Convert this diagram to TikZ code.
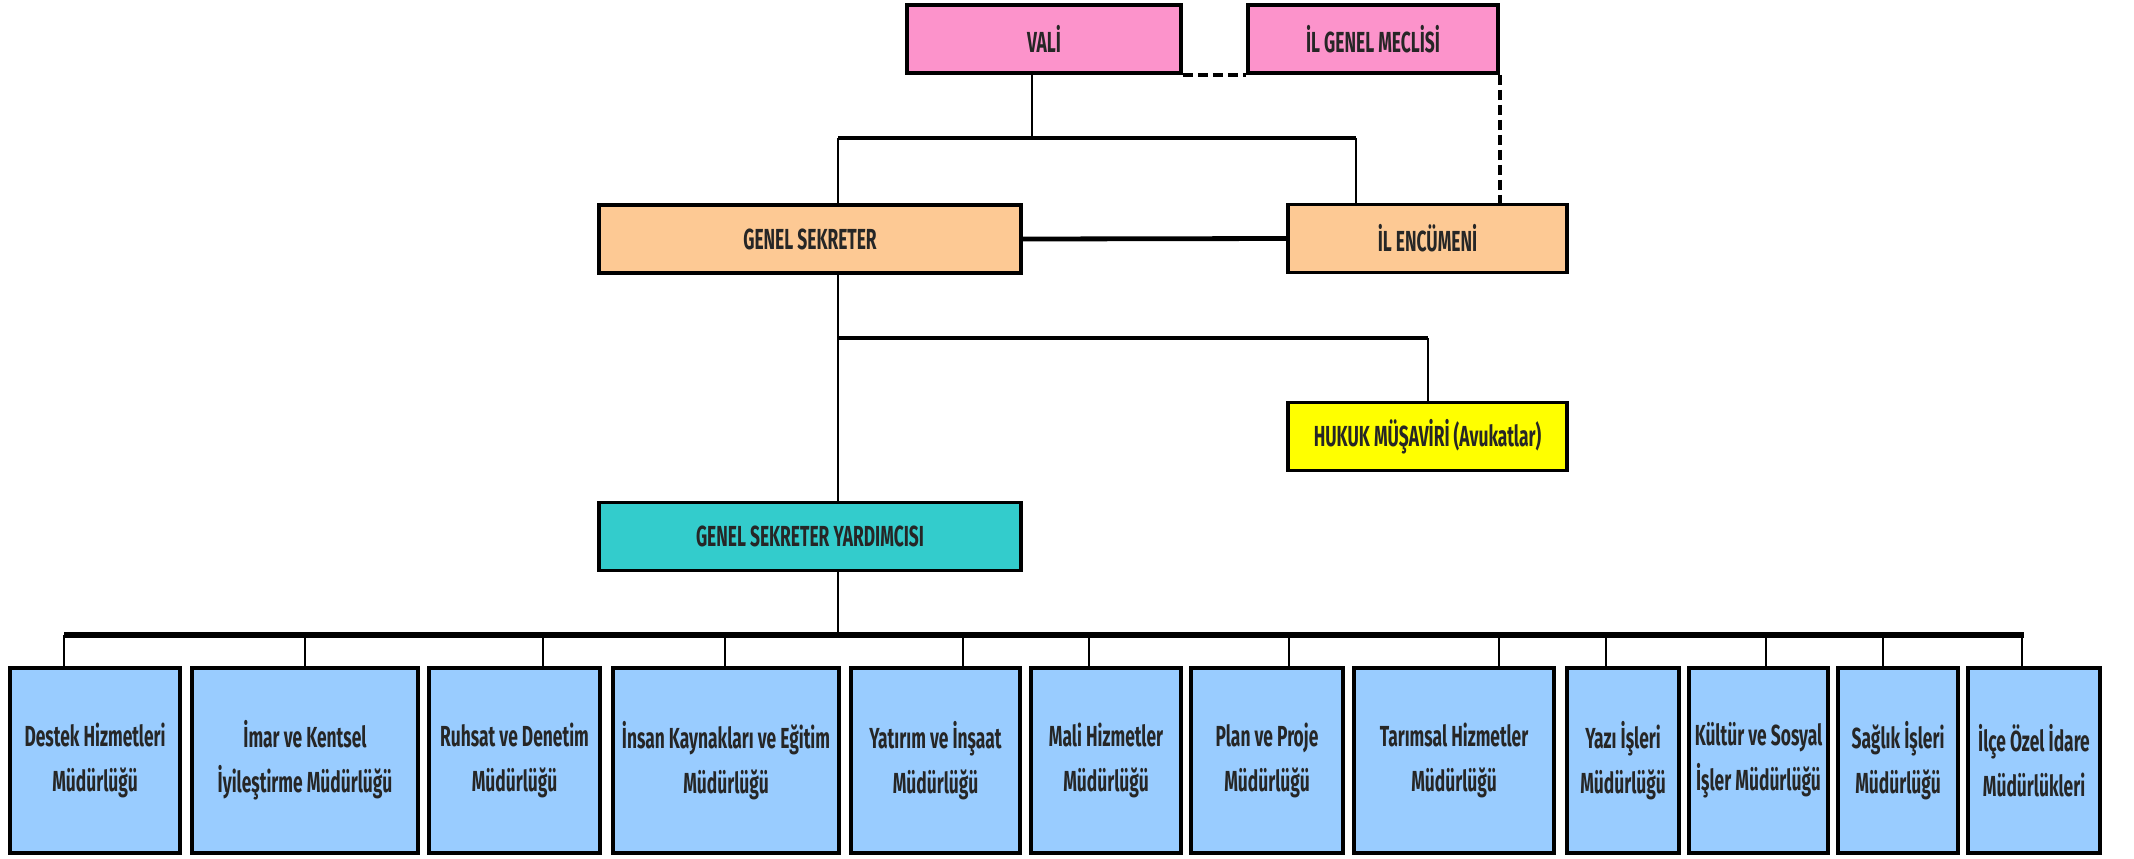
\documentclass[tikz,border=0pt]{standalone}
\usepackage{fontspec}
\setmainfont{Fira Sans}[FakeStretch=0.6]
\definecolor{cpink}{HTML}{FC93CB}
\definecolor{cpeach}{HTML}{FDC994}
\definecolor{cyel}{HTML}{FFFF00}
\definecolor{cteal}{HTML}{33CCCC}
\definecolor{cblue}{HTML}{99CCFF}
\begin{document}
\begin{tikzpicture}[x=0.5pt,y=-0.5pt,
  box/.style={draw=black, line width=1.8pt, inner sep=0pt, align=center,
    font=\bfseries\fontsize{14.5}{22.5}\selectfont, text=black!85},
  hbox/.style={box, minimum height=34pt},
  dept/.style={box, fill=cblue, minimum height=92.5pt},
  thin/.style={line width=1.1pt},
  thick/.style={line width=2.4pt},
  busline/.style={line width=3.4pt},
  dashedline/.style={line width=1.8pt, dash pattern=on 5pt off 2.5pt}]
\useasboundingbox (0,0) rectangle (2134,858);

% top boxes
\node[hbox, fill=cpink, minimum width=137pt] (vali) at (1044,39) {VALİ};
\node[hbox, fill=cpink, minimum width=125pt] (igm) at (1373,39) {İL GENEL MECLİSİ};
\node[hbox, fill=cpeach, minimum width=211pt] (gs) at (810,239) {GENEL SEKRETER};
\node[hbox, fill=cpeach, minimum width=139.5pt] (ie) at (1427.5,238.5) {İL ENCÜMENİ};
\node[hbox, fill=cyel, minimum width=139.5pt] (hk) at (1427.5,436.5) {HUKUK MÜŞAVİRİ (Avukatlar)};
\node[hbox, fill=cteal, minimum width=211pt] (gsy) at (810,536.5) {GENEL SEKRETER YARDIMCISI};

% junctions
\coordinate (vdrop) at (1032,138);
\coordinate (jL) at (838,138);
\coordinate (jR) at (1356,138);
\coordinate (hj) at (838,338);
\coordinate (hR) at (1428,338);
\coordinate (busL) at (64,635);
\coordinate (busM) at (838,635);
\coordinate (busR) at (2024,635);

% connectors top
\draw[dashedline] (vali.south east) -- (igm.south west);
\draw[dashedline] (igm.south east) -- (igm.south east |- ie.north);
\draw[thin] (vdrop |- vali.south) -- (vdrop);
\draw[thick] (jL) -- (jR);
\draw[thin] (jL) -- (jL |- gs.north);
\draw[thin] (jR) -- (jR |- ie.north);
\draw[thick] (gs.east) -- (ie.west);
\draw[thin] (jL |- gs.south) -- (jL |- gsy.north);
\draw[thick] (hj) -- (hR);
\draw[thin] (hR) -- (hR |- hk.north);
\draw[thin] (busM |- gsy.south) -- (busM);
\draw[busline] (busL) -- (busR);

% departments
\foreach \a/\b/\d/\n/\t in {
  10/180/64/d1/{Destek Hizmetleri\\Müdürlüğü},
  192/418/305/d2/{İmar ve Kentsel\\İyileştirme Müdürlüğü},
  429/600/543/d3/{Ruhsat ve Denetim\\Müdürlüğü},
  613/839/725/d4/{İnsan Kaynakları ve Eğitim\\Müdürlüğü},
  851/1020/963/d5/{Yatırım ve İnşaat\\Müdürlüğü},
  1031/1181/1089/d6/{Mali Hizmetler\\Müdürlüğü},
  1191/1343/1289/d7/{Plan ve Proje\\Müdürlüğü},
  1354/1554/1499/d8/{Tarımsal Hizmetler\\Müdürlüğü},
  1567/1679/1606/d9/{Yazı İşleri\\Müdürlüğü},
  1689/1828/1766/d10/{Kültür ve Sosyal\\İşler Müdürlüğü},
  1838/1958/1883/d11/{Sağlık İşleri\\Müdürlüğü},
  1968/2100/2022/d12/{İlçe Özel İdare\\Müdürlükleri}} {
  \node[dept, minimum width={(\b-\a)*0.5pt}] (\n) at ({(\a+\b)/2},760.5) {\t};
  \coordinate (b\n) at (\d,635);
  \draw[thin] (b\n) -- (b\n |- \n.north);
}
\end{tikzpicture}
\end{document}
